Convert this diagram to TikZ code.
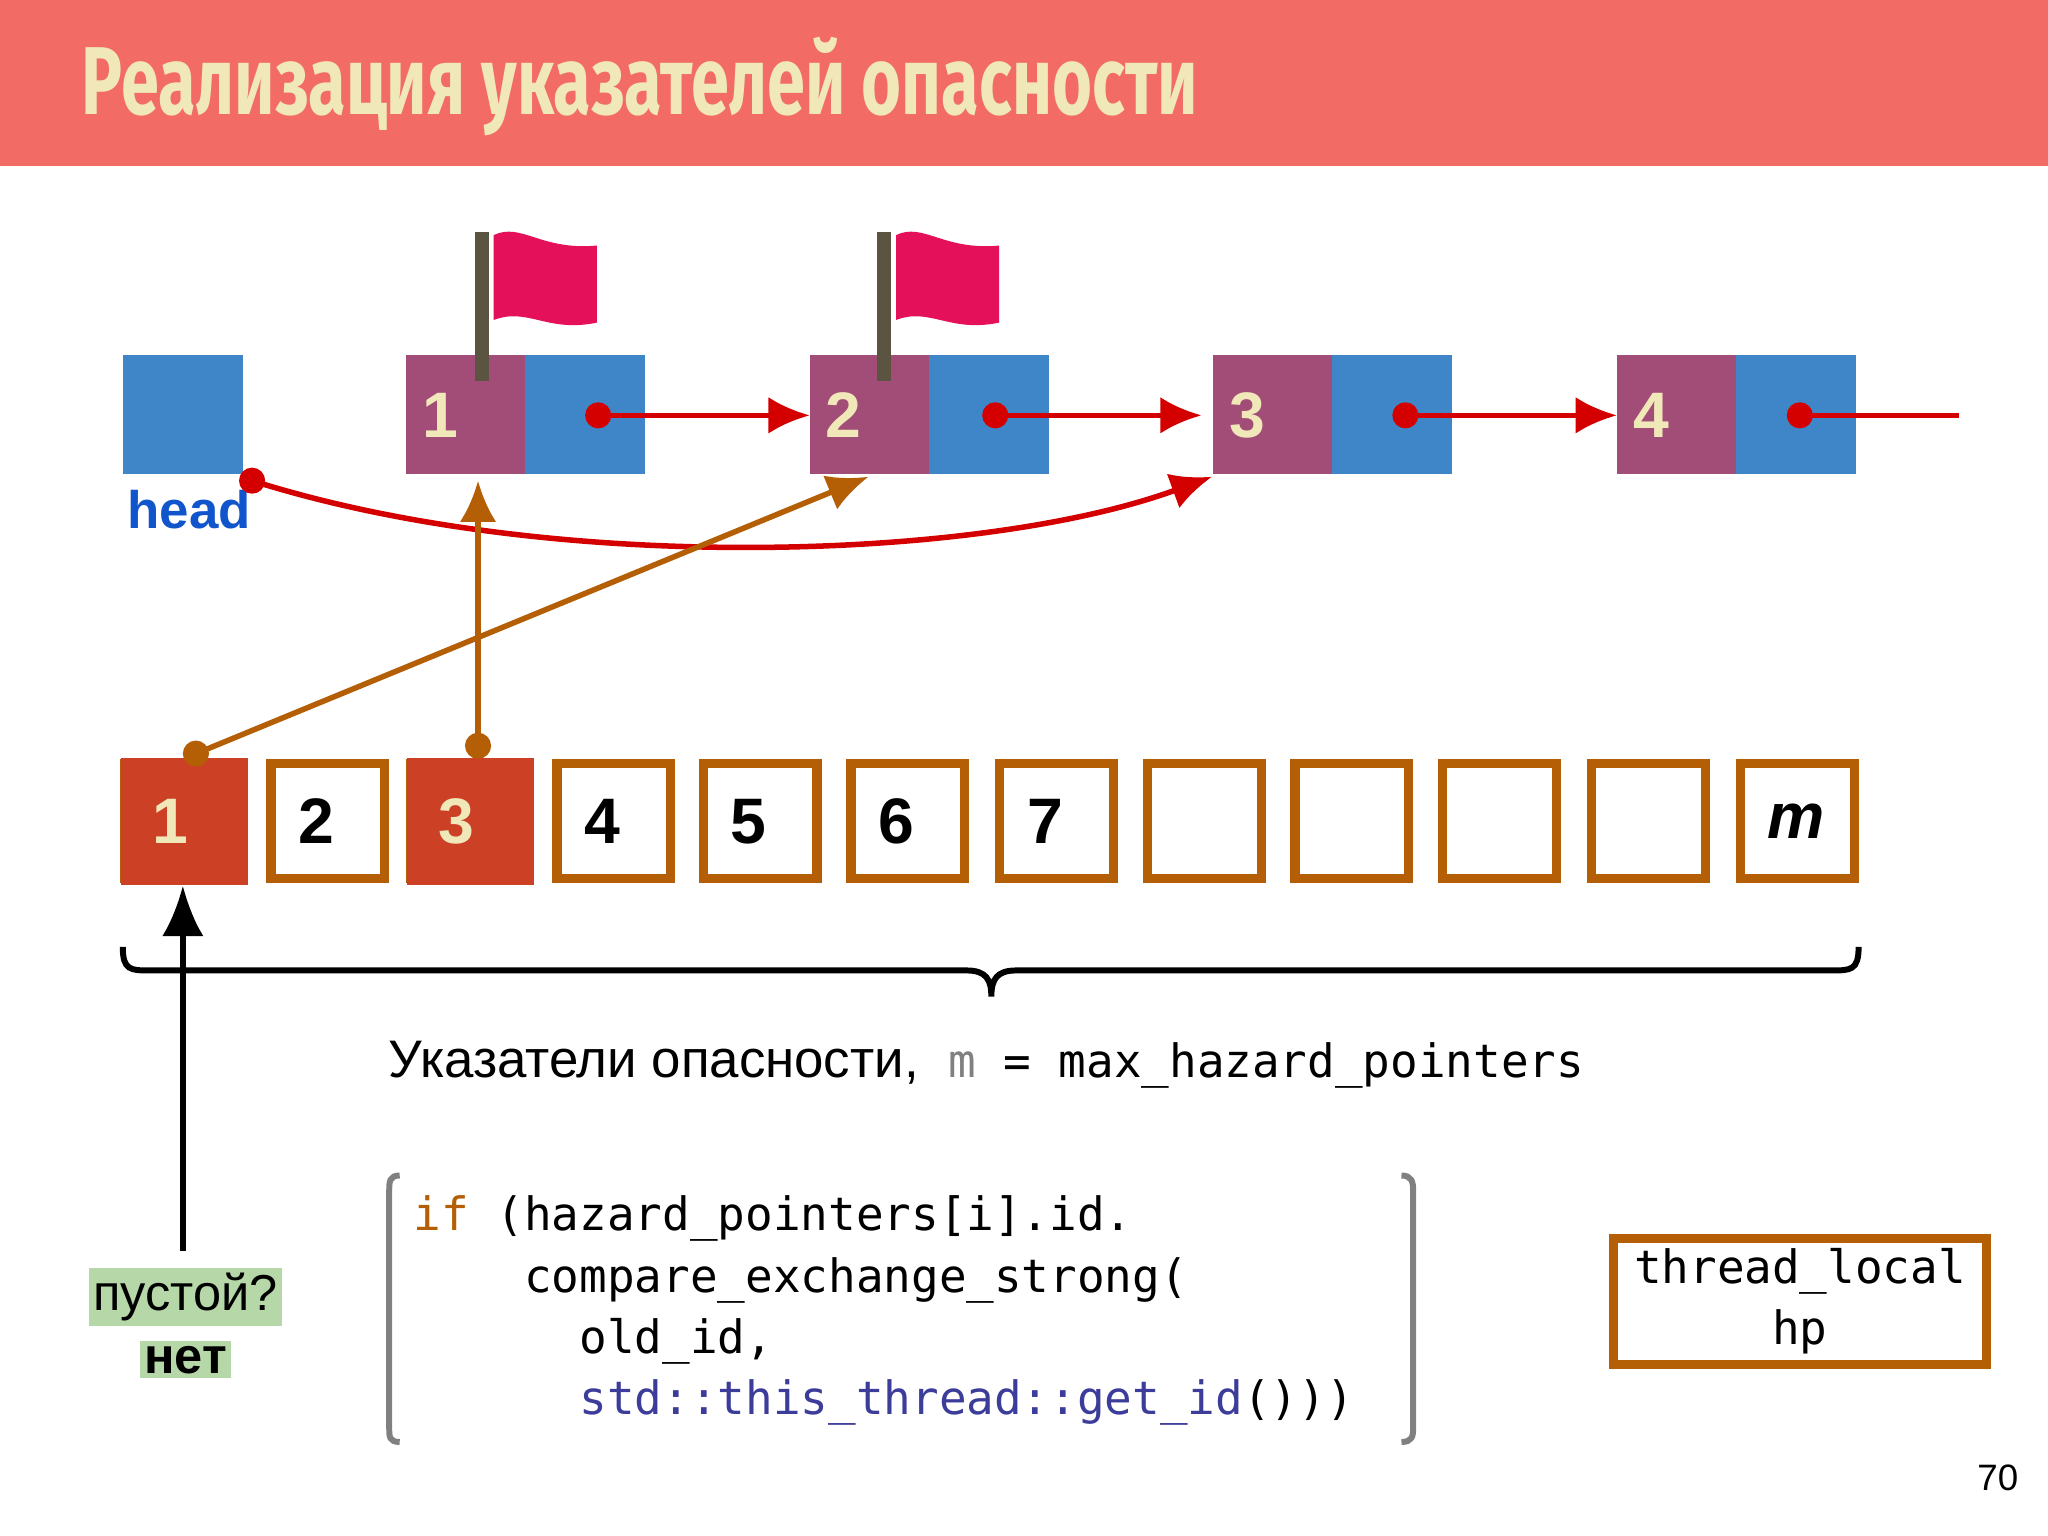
\documentclass[tikz,border=0pt]{standalone}
\usepackage{fontspec}
\setmainfont{Liberation Sans}
\newfontfamily\monof{DejaVu Sans Mono}
\newfontfamily\titlef{Fira Sans}
\usetikzlibrary{arrows.meta,decorations.pathreplacing}
\definecolor{titlebg}{HTML}{F26B65}
\definecolor{cream}{HTML}{F0E8B8}
\definecolor{nblue}{HTML}{3F86C8}
\definecolor{npurp}{HTML}{A24C78}
\definecolor{dred}{HTML}{D40000}
\definecolor{brn}{HTML}{B45F06}
\definecolor{hfill}{HTML}{CC4125}
\definecolor{flagc}{HTML}{E5105A}
\definecolor{pole}{HTML}{5A5440}
\definecolor{grn}{HTML}{B6D7A8}
\definecolor{codeb}{HTML}{3C3C9A}
\definecolor{headc}{HTML}{1155CC}
\tikzset{
 numl/.style={text=cream,font=\fontsize{14}{14}\selectfont\bfseries},
 arrl/.style={font=\fontsize{14}{14}\selectfont\bfseries},
 redarr/.style={dred,line width=1.2pt,-{Latex[length=9pt,width=8pt]}},
 brnarr/.style={brn,line width=1.2pt,-{Latex[length=9pt,width=8pt]}},
 cellbox/.style={draw=brn,line width=2pt,minimum width=0.87cm,minimum height=0.88cm,inner sep=0,anchor=north west},
 hotbox/.style={fill=hfill,minimum width=0.97cm,minimum height=0.97cm,inner sep=0,anchor=north west},
 codef/.style={font=\monof\fontsize{10}{13.3}\selectfont},
}
\begin{document}
\begin{tikzpicture}[x=0.01cm,y=-0.01cm]
\useasboundingbox (0,0) rectangle (1568,1176);
\fill[white] (0,0) rectangle (1568,1176);
\fill[titlebg] (0,0) rectangle (1568,127);
\node[anchor=base west,text=cream,inner sep=0] (title) at (62,88) {\scalebox{0.71}[1]{\titlef\fontsize{21}{21}\selectfont\bfseries Реализация указателей опасности}};
% head
\fill[nblue] (94,272) rectangle (186,363);
\node[anchor=base west,text=headc,inner sep=0,font=\fontsize{11.5}{12}\selectfont\bfseries] (head) at (97,405) {head};
% list nodes
\foreach \i/\x in {1/311,2/620,3/929,4/1238}{
 \fill[npurp] (\x,272) rectangle ++(91,91);
 \fill[nblue] (\x+91,272) rectangle ++(92,91);
 \node[numl,anchor=center] (n\i) at (\x+26,318) {\i};
}
\foreach \i/\x in {1/458,2/762,3/1076,4/1378}{\coordinate (d\i) at (\x,318);}
\coordinate (e2) at (620,318);\coordinate (e3) at (920,318);\coordinate (e4) at (1238,318);\coordinate (e5) at (1500,318);
\draw[redarr] (d1) -- (e2);
\draw[redarr] (d2) -- (e3);
\draw[redarr] (d3) -- (e4);
\draw[dred,line width=1.2pt] (d4) -- (e5);
\foreach \i in {1,2,3,4}{\fill[dred] (d\i) circle (10);}
% flags
\foreach \x in {369,677}{
 \fill[flagc] (\x+9,180) .. controls (\x+30,170) and (\x+45,192) .. (\x+88,188) -- (\x+88,247) .. controls (\x+50,255) and (\x+35,235) .. (\x+9,245) -- cycle;
 \draw[pole,line width=3pt] (\x,178) -- (\x,292);
}
% head curve
\coordinate (hd) at (193,368);\coordinate (t3) at (928,365);
\draw[redarr] (hd) .. controls (420,440) and (750,430) .. (t3);
\fill[dred] (hd) circle (10);
% array
\foreach \i/\x/\t in {1/92/1,2/204/2,3/311/3,4/423/4,5/535/5,6/648/6,7/762/7,8/875/,9/988/,10/1101/,11/1215/,12/1329/{\itshape m}}{
 \node[cellbox] (a\i) at (\x,581) {};
 \node[arrl,anchor=west] at (\x+12,629) {\t};
}
\node[hotbox] (a1f) at (92,580) {};
\node[numl,anchor=west] at (104,629) {1};
\node[hotbox] (a3f) at (311,580) {};
\node[numl,anchor=west] at (323,629) {3};
\coordinate (b1) at (150,577);\coordinate (b3) at (366,571);
\coordinate (u1) at (366,368);\coordinate (u2) at (665,365);
\draw[brnarr] (b1) -- (u2);
\draw[brnarr] (b3) -- (u1);
\fill[brn] (b1) circle (10);\fill[brn] (b3) circle (10);
% brace
\draw[line width=1.3pt] (94,725) .. controls (94,743) and (100,743) .. (115,743) -- (740,743) .. controls (755,743) and (759,750) .. (759,763)
 .. controls (759,750) and (763,743) .. (778,743) -- (1402,743) .. controls (1417,743) and (1423,743) .. (1423,725);
\node[anchor=base west,inner sep=0,font=\fontsize{11.5}{12}\selectfont] (lab) at (297,825) {Указатели опасности,~~{\monof\fontsize{10}{12}\selectfont{\color{gray}m} = max\_hazard\_pointers}};
% black arrow
\coordinate (q) at (140,958);\coordinate (q2) at (140,678);
\draw[line width=1.3pt,-{Latex[length=11pt,width=9pt]}] (q) -- (q2);
\node[fill=grn,inner sep=1pt,font=\fontsize{11}{12}\selectfont,anchor=center] (emp) at (142,993) {пустой?};
\node[fill=grn,inner sep=1pt,font=\fontsize{11}{12}\selectfont\bfseries,anchor=center] (no) at (142,1041) {нет};
% code box
\draw[gray,line width=1.3pt] (306,900) .. controls (298,900) and (298,905) .. (298,912) -- (298,1093) .. controls (298,1100) and (298,1104) .. (306,1104);
\draw[gray,line width=1.3pt] (1073,900) .. controls (1081,900) and (1082,905) .. (1082,912) -- (1082,1093) .. controls (1082,1100) and (1081,1104) .. (1073,1104);
\node[anchor=north west,inner sep=0,align=left,codef] (code) at (316,915) {%
{\color{brn}if} (hazard\_pointers[i].id.\\
\hphantom{if~}~compare\_exchange\_strong(\\
\hphantom{if~}~~~old\_id,\\
\hphantom{if~}~~~{\color{codeb}std::this\_thread::get\_id}()))};
% thread_local
\node[draw=brn,line width=2pt,minimum width=2.85cm,minimum height=0.96cm,inner sep=0,anchor=north west,align=center,codef] (tl) at (1232,945) {thread\_local\\hp};
\node[anchor=base east,inner sep=0,font=\fontsize{8}{8}\selectfont] (pg) at (1546,1141) {70};
\end{tikzpicture}
\end{document}
